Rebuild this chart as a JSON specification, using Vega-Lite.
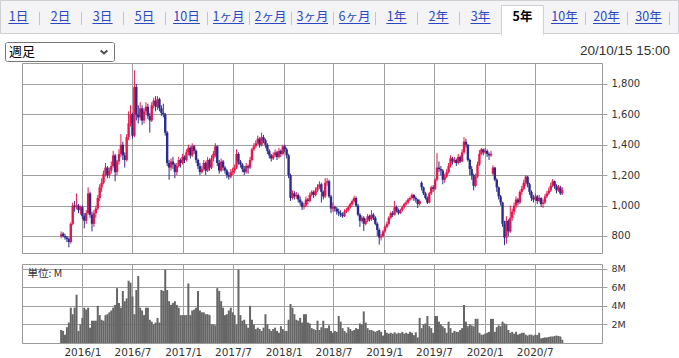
{
"$schema": "https://vega.github.io/schema/vega-lite/v6.json",
"padding": 0,
"autosize": {"type": "pad"},
"background": "white",
"bounds": "flush",
"spacing": 11,
"config": {"view": {"stroke": null}, "axis": {"labelFont": "DejaVu Sans", "labelOverlap": false}},
"datasets": {
"tabs": [
{"tab":"1日","active":false},{"tab":"2日","active":false},{"tab":"3日","active":false},{"tab":"5日","active":false},{"tab":"10日","active":false},{"tab":"1ヶ月","active":false},{"tab":"2ヶ月","active":false},{"tab":"3ヶ月","active":false},{"tab":"6ヶ月","active":false},{"tab":"1年","active":false},{"tab":"2年","active":false},{"tab":"3年","active":false},{"tab":"5年","active":true},{"tab":"10年","active":false},{"tab":"20年","active":false},{"tab":"30年","active":false}
],
"candles": [
{"d":"2015-10-16","o":800,"h":830,"l":785,"c":810,"v":1.4},
{"d":"2015-10-23","o":815,"h":825,"l":790,"c":800,"v":1.3},
{"d":"2015-10-30","o":800,"h":815,"l":775,"c":790,"v":0.9},
{"d":"2015-11-06","o":790,"h":800,"l":760,"c":780,"v":1.7},
{"d":"2015-11-13","o":780,"h":790,"l":725,"c":760,"v":2.2},
{"d":"2015-11-20","o":760,"h":890,"l":750,"c":880,"v":3.8},
{"d":"2015-11-27","o":880,"h":1020,"l":870,"c":1000,"v":3.1},
{"d":"2015-12-04","o":1000,"h":1030,"l":960,"c":990,"v":3.8},
{"d":"2015-12-11","o":990,"h":1080,"l":975,"c":1000,"v":5.2},
{"d":"2015-12-18","o":1000,"h":1010,"l":950,"c":970,"v":1.3},
{"d":"2015-12-25","o":970,"h":1000,"l":940,"c":990,"v":2.0},
{"d":"2016-01-01","o":990,"h":1000,"l":910,"c":930,"v":2.7},
{"d":"2016-01-08","o":930,"h":950,"l":850,"c":900,"v":3.8},
{"d":"2016-01-15","o":900,"h":970,"l":880,"c":950,"v":3.6},
{"d":"2016-01-22","o":950,"h":1120,"l":940,"c":1080,"v":3.8},
{"d":"2016-01-29","o":1080,"h":1090,"l":920,"c":940,"v":1.65},
{"d":"2016-02-05","o":940,"h":960,"l":830,"c":880,"v":2.4},
{"d":"2016-02-12","o":880,"h":970,"l":860,"c":950,"v":2.4},
{"d":"2016-02-19","o":950,"h":1000,"l":920,"c":980,"v":2.4},
{"d":"2016-02-26","o":980,"h":1070,"l":970,"c":1050,"v":4.0},
{"d":"2016-03-04","o":1050,"h":1140,"l":1030,"c":1120,"v":3.0},
{"d":"2016-03-11","o":1120,"h":1180,"l":1090,"c":1150,"v":2.5},
{"d":"2016-03-18","o":1150,"h":1230,"l":1140,"c":1210,"v":2.4},
{"d":"2016-03-25","o":1210,"h":1280,"l":1190,"c":1250,"v":3.0},
{"d":"2016-04-01","o":1250,"h":1260,"l":1180,"c":1200,"v":3.1},
{"d":"2016-04-08","o":1200,"h":1250,"l":1180,"c":1230,"v":3.3},
{"d":"2016-04-15","o":1230,"h":1290,"l":1210,"c":1260,"v":3.5},
{"d":"2016-04-22","o":1260,"h":1360,"l":1250,"c":1330,"v":3.8},
{"d":"2016-04-29","o":1330,"h":1340,"l":1160,"c":1220,"v":4.1},
{"d":"2016-05-06","o":1220,"h":1300,"l":1200,"c":1290,"v":5.9},
{"d":"2016-05-13","o":1290,"h":1370,"l":1270,"c":1340,"v":4.3},
{"d":"2016-05-20","o":1340,"h":1470,"l":1320,"c":1400,"v":3.8},
{"d":"2016-05-27","o":1400,"h":1420,"l":1300,"c":1330,"v":5.6},
{"d":"2016-06-03","o":1330,"h":1350,"l":1250,"c":1300,"v":4.5},
{"d":"2016-06-10","o":1300,"h":1470,"l":1290,"c":1450,"v":4.8},
{"d":"2016-06-17","o":1450,"h":1620,"l":1430,"c":1540,"v":6.7},
{"d":"2016-06-24","o":1540,"h":1660,"l":1520,"c":1600,"v":6.5},
{"d":"2016-07-01","o":1600,"h":1610,"l":1440,"c":1460,"v":5.0},
{"d":"2016-07-08","o":1460,"h":1890,"l":1450,"c":1780,"v":3.1},
{"d":"2016-07-15","o":1780,"h":1800,"l":1560,"c":1600,"v":5.7},
{"d":"2016-07-22","o":1600,"h":1660,"l":1540,"c":1580,"v":7.2},
{"d":"2016-07-29","o":1580,"h":1680,"l":1560,"c":1640,"v":3.8},
{"d":"2016-08-05","o":1640,"h":1660,"l":1530,"c":1560,"v":3.5},
{"d":"2016-08-12","o":1560,"h":1640,"l":1540,"c":1620,"v":3.0},
{"d":"2016-08-19","o":1620,"h":1680,"l":1600,"c":1650,"v":3.8},
{"d":"2016-08-26","o":1650,"h":1670,"l":1570,"c":1590,"v":3.8},
{"d":"2016-09-02","o":1590,"h":1610,"l":1480,"c":1560,"v":2.5},
{"d":"2016-09-09","o":1560,"h":1680,"l":1550,"c":1660,"v":2.3},
{"d":"2016-09-16","o":1660,"h":1710,"l":1640,"c":1690,"v":2.0},
{"d":"2016-09-23","o":1690,"h":1720,"l":1620,"c":1650,"v":2.2},
{"d":"2016-09-30","o":1650,"h":1720,"l":1630,"c":1700,"v":2.7},
{"d":"2016-10-07","o":1700,"h":1710,"l":1620,"c":1640,"v":2.2},
{"d":"2016-10-14","o":1640,"h":1660,"l":1590,"c":1610,"v":5.7},
{"d":"2016-10-21","o":1610,"h":1670,"l":1580,"c":1600,"v":5.6},
{"d":"2016-10-28","o":1600,"h":1610,"l":1460,"c":1480,"v":7.9},
{"d":"2016-11-04","o":1480,"h":1490,"l":1260,"c":1280,"v":5.7},
{"d":"2016-11-11","o":1280,"h":1300,"l":1170,"c":1250,"v":4.5},
{"d":"2016-11-18","o":1250,"h":1310,"l":1230,"c":1290,"v":4.1},
{"d":"2016-11-25","o":1290,"h":1320,"l":1240,"c":1270,"v":4.3},
{"d":"2016-12-02","o":1270,"h":1280,"l":1180,"c":1220,"v":4.5},
{"d":"2016-12-09","o":1220,"h":1280,"l":1200,"c":1260,"v":4.1},
{"d":"2016-12-16","o":1260,"h":1320,"l":1250,"c":1300,"v":3.8},
{"d":"2016-12-23","o":1300,"h":1310,"l":1250,"c":1280,"v":3.0},
{"d":"2016-12-30","o":1280,"h":1340,"l":1270,"c":1320,"v":3.0},
{"d":"2017-01-06","o":1320,"h":1330,"l":1280,"c":1300,"v":3.0},
{"d":"2017-01-13","o":1300,"h":1370,"l":1290,"c":1350,"v":3.0},
{"d":"2017-01-20","o":1350,"h":1400,"l":1330,"c":1380,"v":6.4},
{"d":"2017-01-27","o":1380,"h":1390,"l":1310,"c":1330,"v":3.0},
{"d":"2017-02-03","o":1330,"h":1410,"l":1320,"c":1390,"v":3.5},
{"d":"2017-02-10","o":1390,"h":1400,"l":1340,"c":1360,"v":3.6},
{"d":"2017-02-17","o":1360,"h":1370,"l":1280,"c":1300,"v":3.8},
{"d":"2017-02-24","o":1300,"h":1310,"l":1240,"c":1260,"v":5.6},
{"d":"2017-03-03","o":1260,"h":1280,"l":1200,"c":1220,"v":3.5},
{"d":"2017-03-10","o":1220,"h":1260,"l":1210,"c":1240,"v":3.3},
{"d":"2017-03-17","o":1240,"h":1300,"l":1230,"c":1280,"v":3.3},
{"d":"2017-03-24","o":1280,"h":1290,"l":1200,"c":1230,"v":3.1},
{"d":"2017-03-31","o":1230,"h":1320,"l":1220,"c":1300,"v":3.1},
{"d":"2017-04-07","o":1300,"h":1310,"l":1230,"c":1250,"v":3.0},
{"d":"2017-04-14","o":1250,"h":1330,"l":1240,"c":1310,"v":2.0},
{"d":"2017-04-21","o":1310,"h":1360,"l":1290,"c":1340,"v":2.0},
{"d":"2017-04-28","o":1330,"h":1410,"l":1320,"c":1390,"v":1.9},
{"d":"2017-05-05","o":1390,"h":1395,"l":1260,"c":1280,"v":5.9},
{"d":"2017-05-12","o":1280,"h":1300,"l":1210,"c":1230,"v":5.6},
{"d":"2017-05-19","o":1230,"h":1310,"l":1220,"c":1290,"v":4.5},
{"d":"2017-05-26","o":1290,"h":1300,"l":1230,"c":1250,"v":3.8},
{"d":"2017-06-02","o":1250,"h":1260,"l":1210,"c":1230,"v":3.0},
{"d":"2017-06-09","o":1230,"h":1240,"l":1180,"c":1200,"v":3.1},
{"d":"2017-06-16","o":1200,"h":1220,"l":1170,"c":1190,"v":3.5},
{"d":"2017-06-23","o":1190,"h":1240,"l":1180,"c":1220,"v":3.8},
{"d":"2017-06-30","o":1220,"h":1250,"l":1200,"c":1230,"v":3.3},
{"d":"2017-07-07","o":1230,"h":1270,"l":1210,"c":1250,"v":3.0},
{"d":"2017-07-14","o":1250,"h":1370,"l":1240,"c":1340,"v":2.0},
{"d":"2017-07-21","o":1340,"h":1350,"l":1270,"c":1290,"v":7.9},
{"d":"2017-07-28","o":1290,"h":1300,"l":1250,"c":1270,"v":3.0},
{"d":"2017-08-04","o":1270,"h":1280,"l":1220,"c":1240,"v":2.4},
{"d":"2017-08-11","o":1240,"h":1260,"l":1200,"c":1220,"v":2.5},
{"d":"2017-08-18","o":1220,"h":1280,"l":1210,"c":1260,"v":2.0},
{"d":"2017-08-25","o":1260,"h":1270,"l":1210,"c":1250,"v":1.65},
{"d":"2017-09-01","o":1250,"h":1320,"l":1240,"c":1300,"v":4.0},
{"d":"2017-09-08","o":1300,"h":1380,"l":1290,"c":1370,"v":2.5},
{"d":"2017-09-15","o":1370,"h":1410,"l":1360,"c":1390,"v":2.0},
{"d":"2017-09-22","o":1390,"h":1430,"l":1380,"c":1410,"v":1.5},
{"d":"2017-09-29","o":1410,"h":1460,"l":1400,"c":1440,"v":1.65},
{"d":"2017-10-06","o":1440,"h":1450,"l":1380,"c":1400,"v":1.5},
{"d":"2017-10-13","o":1400,"h":1480,"l":1390,"c":1450,"v":1.3},
{"d":"2017-10-20","o":1450,"h":1465,"l":1410,"c":1430,"v":1.65},
{"d":"2017-10-27","o":1430,"h":1440,"l":1380,"c":1400,"v":3.1},
{"d":"2017-11-03","o":1400,"h":1410,"l":1340,"c":1360,"v":2.0},
{"d":"2017-11-10","o":1360,"h":1370,"l":1310,"c":1330,"v":1.5},
{"d":"2017-11-17","o":1330,"h":1340,"l":1290,"c":1310,"v":1.3},
{"d":"2017-11-24","o":1310,"h":1350,"l":1300,"c":1330,"v":1.5},
{"d":"2017-12-01","o":1330,"h":1370,"l":1320,"c":1350,"v":1.65},
{"d":"2017-12-08","o":1350,"h":1360,"l":1300,"c":1320,"v":1.3},
{"d":"2017-12-15","o":1320,"h":1380,"l":1310,"c":1360,"v":1.1},
{"d":"2017-12-22","o":1360,"h":1370,"l":1320,"c":1340,"v":1.8},
{"d":"2017-12-29","o":1340,"h":1400,"l":1330,"c":1390,"v":1.5},
{"d":"2018-01-05","o":1390,"h":1400,"l":1350,"c":1370,"v":1.3},
{"d":"2018-01-12","o":1370,"h":1380,"l":1310,"c":1330,"v":1.3},
{"d":"2018-01-19","o":1330,"h":1340,"l":1180,"c":1200,"v":2.5},
{"d":"2018-01-26","o":1200,"h":1210,"l":1030,"c":1050,"v":4.2},
{"d":"2018-02-02","o":1050,"h":1100,"l":1040,"c":1080,"v":3.8},
{"d":"2018-02-09","o":1080,"h":1095,"l":1040,"c":1060,"v":3.1},
{"d":"2018-02-16","o":1060,"h":1090,"l":1045,"c":1070,"v":2.5},
{"d":"2018-02-23","o":1070,"h":1080,"l":1020,"c":1040,"v":2.4},
{"d":"2018-03-02","o":1040,"h":1060,"l":1000,"c":1020,"v":2.7},
{"d":"2018-03-09","o":1020,"h":1030,"l":970,"c":990,"v":2.2},
{"d":"2018-03-16","o":990,"h":1020,"l":975,"c":1000,"v":3.1},
{"d":"2018-03-23","o":1000,"h":1060,"l":990,"c":1040,"v":3.1},
{"d":"2018-03-30","o":1040,"h":1050,"l":1010,"c":1030,"v":2.2},
{"d":"2018-04-06","o":1030,"h":1085,"l":1020,"c":1070,"v":2.1},
{"d":"2018-04-13","o":1070,"h":1100,"l":1060,"c":1090,"v":1.6},
{"d":"2018-04-20","o":1090,"h":1100,"l":1050,"c":1070,"v":1.5},
{"d":"2018-04-27","o":1070,"h":1120,"l":1060,"c":1100,"v":1.4},
{"d":"2018-05-04","o":1100,"h":1140,"l":1090,"c":1120,"v":2.4},
{"d":"2018-05-11","o":1120,"h":1160,"l":1110,"c":1140,"v":1.4},
{"d":"2018-05-18","o":1140,"h":1150,"l":1020,"c":1090,"v":1.7},
{"d":"2018-05-25","o":1090,"h":1100,"l":1040,"c":1060,"v":2.4},
{"d":"2018-06-01","o":1060,"h":1180,"l":1050,"c":1150,"v":1.6},
{"d":"2018-06-08","o":1150,"h":1180,"l":1130,"c":1160,"v":1.6},
{"d":"2018-06-15","o":1160,"h":1170,"l":1050,"c":1060,"v":1.9},
{"d":"2018-06-22","o":1060,"h":1070,"l":950,"c":980,"v":1.3},
{"d":"2018-06-29","o":980,"h":1020,"l":960,"c":990,"v":1.1},
{"d":"2018-07-06","o":990,"h":1000,"l":960,"c":980,"v":1.3},
{"d":"2018-07-13","o":980,"h":990,"l":940,"c":960,"v":1.2},
{"d":"2018-07-20","o":960,"h":980,"l":930,"c":950,"v":2.9},
{"d":"2018-07-27","o":950,"h":970,"l":925,"c":940,"v":2.3},
{"d":"2018-08-03","o":940,"h":955,"l":920,"c":930,"v":1.6},
{"d":"2018-08-10","o":930,"h":975,"l":925,"c":960,"v":1.3},
{"d":"2018-08-17","o":960,"h":985,"l":950,"c":970,"v":1.1},
{"d":"2018-08-24","o":970,"h":1000,"l":960,"c":990,"v":1.7},
{"d":"2018-08-31","o":990,"h":1020,"l":980,"c":1010,"v":1.5},
{"d":"2018-09-07","o":1010,"h":1040,"l":1000,"c":1030,"v":1.3},
{"d":"2018-09-14","o":1030,"h":1065,"l":1020,"c":1050,"v":1.4},
{"d":"2018-09-21","o":1050,"h":1060,"l":990,"c":1000,"v":1.6},
{"d":"2018-09-28","o":1000,"h":1010,"l":930,"c":940,"v":1.5},
{"d":"2018-10-05","o":940,"h":950,"l":860,"c":900,"v":2.1},
{"d":"2018-10-12","o":900,"h":935,"l":890,"c":920,"v":2.0},
{"d":"2018-10-19","o":920,"h":930,"l":833,"c":880,"v":3.4},
{"d":"2018-10-26","o":880,"h":915,"l":870,"c":900,"v":2.2},
{"d":"2018-11-02","o":900,"h":945,"l":890,"c":930,"v":1.6},
{"d":"2018-11-09","o":930,"h":940,"l":895,"c":910,"v":1.4},
{"d":"2018-11-16","o":910,"h":970,"l":900,"c":940,"v":1.4},
{"d":"2018-11-23","o":940,"h":950,"l":905,"c":920,"v":1.3},
{"d":"2018-11-30","o":920,"h":930,"l":870,"c":880,"v":1.2},
{"d":"2018-12-07","o":880,"h":890,"l":800,"c":840,"v":1.3},
{"d":"2018-12-14","o":840,"h":850,"l":743,"c":790,"v":1.4},
{"d":"2018-12-21","o":790,"h":815,"l":770,"c":800,"v":1.2},
{"d":"2018-12-28","o":800,"h":840,"l":790,"c":830,"v":0.8},
{"d":"2019-01-04","o":830,"h":870,"l":820,"c":860,"v":1.4},
{"d":"2019-01-11","o":860,"h":895,"l":850,"c":880,"v":1.1},
{"d":"2019-01-18","o":880,"h":930,"l":870,"c":920,"v":1.0},
{"d":"2019-01-25","o":920,"h":960,"l":910,"c":950,"v":1.1},
{"d":"2019-02-01","o":950,"h":965,"l":925,"c":940,"v":1.0},
{"d":"2019-02-08","o":940,"h":1030,"l":935,"c":990,"v":1.15},
{"d":"2019-02-15","o":990,"h":1000,"l":955,"c":970,"v":1.0},
{"d":"2019-02-22","o":970,"h":980,"l":940,"c":950,"v":1.1},
{"d":"2019-03-01","o":950,"h":980,"l":945,"c":970,"v":1.05},
{"d":"2019-03-08","o":970,"h":1000,"l":960,"c":990,"v":1.2},
{"d":"2019-03-15","o":990,"h":1020,"l":980,"c":1010,"v":1.0},
{"d":"2019-03-22","o":1010,"h":1035,"l":1000,"c":1020,"v":1.1},
{"d":"2019-03-29","o":1020,"h":1050,"l":1010,"c":1040,"v":1.0},
{"d":"2019-04-05","o":1040,"h":1060,"l":1030,"c":1050,"v":1.2},
{"d":"2019-04-12","o":1050,"h":1080,"l":1040,"c":1070,"v":1.1},
{"d":"2019-04-19","o":1070,"h":1075,"l":1030,"c":1050,"v":0.85},
{"d":"2019-04-26","o":1050,"h":1060,"l":1020,"c":1040,"v":1.15},
{"d":"2019-05-03","o":1040,"h":1045,"l":984,"c":1010,"v":0.6},
{"d":"2019-05-10","o":1010,"h":1040,"l":1000,"c":1030,"v":2.7},
{"d":"2019-05-17","o":1150,"h":1160,"l":1100,"c":1120,"v":1.6},
{"d":"2019-05-24","o":1120,"h":1125,"l":1070,"c":1080,"v":2.0},
{"d":"2019-05-31","o":1080,"h":1090,"l":1040,"c":1050,"v":2.1},
{"d":"2019-06-07","o":1050,"h":1060,"l":1010,"c":1020,"v":2.9},
{"d":"2019-06-14","o":1020,"h":1090,"l":1015,"c":1080,"v":1.8},
{"d":"2019-06-21","o":1080,"h":1130,"l":1070,"c":1120,"v":1.6},
{"d":"2019-06-28","o":1120,"h":1135,"l":1090,"c":1110,"v":1.1},
{"d":"2019-07-05","o":1110,"h":1180,"l":1100,"c":1170,"v":2.9},
{"d":"2019-07-12","o":1170,"h":1345,"l":1160,"c":1250,"v":2.9},
{"d":"2019-07-19","o":1250,"h":1290,"l":1220,"c":1240,"v":2.3},
{"d":"2019-07-26","o":1240,"h":1260,"l":1200,"c":1230,"v":2.0},
{"d":"2019-08-02","o":1230,"h":1240,"l":1140,"c":1170,"v":1.8},
{"d":"2019-08-09","o":1170,"h":1210,"l":1150,"c":1190,"v":1.6},
{"d":"2019-08-16","o":1190,"h":1240,"l":1180,"c":1220,"v":1.1},
{"d":"2019-08-23","o":1220,"h":1280,"l":1210,"c":1260,"v":2.3},
{"d":"2019-08-30","o":1260,"h":1330,"l":1250,"c":1310,"v":1.6},
{"d":"2019-09-06","o":1310,"h":1320,"l":1270,"c":1290,"v":1.1},
{"d":"2019-09-13","o":1290,"h":1320,"l":1280,"c":1300,"v":1.3},
{"d":"2019-09-20","o":1300,"h":1310,"l":1260,"c":1280,"v":1.2},
{"d":"2019-09-27","o":1280,"h":1340,"l":1270,"c":1320,"v":1.2},
{"d":"2019-10-04","o":1320,"h":1330,"l":1280,"c":1290,"v":1.4},
{"d":"2019-10-11","o":1290,"h":1370,"l":1285,"c":1350,"v":1.6},
{"d":"2019-10-18","o":1350,"h":1450,"l":1340,"c":1420,"v":4.1},
{"d":"2019-10-25","o":1420,"h":1440,"l":1380,"c":1400,"v":2.3},
{"d":"2019-11-01","o":1400,"h":1405,"l":1290,"c":1300,"v":1.8},
{"d":"2019-11-08","o":1300,"h":1310,"l":1200,"c":1240,"v":2.0},
{"d":"2019-11-15","o":1240,"h":1260,"l":1170,"c":1200,"v":1.9},
{"d":"2019-11-22","o":1200,"h":1210,"l":1100,"c":1130,"v":1.8},
{"d":"2019-11-29","o":1130,"h":1210,"l":1120,"c":1190,"v":2.6},
{"d":"2019-12-06","o":1190,"h":1290,"l":1180,"c":1270,"v":2.6},
{"d":"2019-12-13","o":1270,"h":1365,"l":1260,"c":1340,"v":1.1},
{"d":"2019-12-20","o":1340,"h":1380,"l":1330,"c":1370,"v":0.9},
{"d":"2019-12-27","o":1370,"h":1375,"l":1330,"c":1350,"v":0.9},
{"d":"2020-01-03","o":1350,"h":1380,"l":1340,"c":1360,"v":1.0},
{"d":"2020-01-10","o":1360,"h":1370,"l":1320,"c":1340,"v":1.1},
{"d":"2020-01-17","o":1340,"h":1350,"l":1300,"c":1330,"v":1.2},
{"d":"2020-01-24","o":1330,"h":1360,"l":1320,"c":1340,"v":2.6},
{"d":"2020-01-31","o":1210,"h":1265,"l":1200,"c":1250,"v":2.6},
{"d":"2020-02-07","o":1250,"h":1255,"l":1160,"c":1170,"v":1.2},
{"d":"2020-02-14","o":1170,"h":1180,"l":1090,"c":1120,"v":1.7},
{"d":"2020-02-21","o":1120,"h":1125,"l":1040,"c":1060,"v":1.9},
{"d":"2020-02-28","o":1060,"h":1070,"l":1000,"c":1020,"v":1.8},
{"d":"2020-03-06","o":1020,"h":1025,"l":860,"c":880,"v":2.3},
{"d":"2020-03-13","o":880,"h":900,"l":740,"c":790,"v":2.1},
{"d":"2020-03-20","o":790,"h":930,"l":750,"c":900,"v":2.0},
{"d":"2020-03-27","o":900,"h":910,"l":800,"c":830,"v":1.4},
{"d":"2020-04-03","o":830,"h":1000,"l":820,"c":920,"v":1.1},
{"d":"2020-04-10","o":920,"h":980,"l":900,"c":960,"v":1.2},
{"d":"2020-04-17","o":960,"h":1020,"l":940,"c":1000,"v":1.0},
{"d":"2020-04-24","o":1000,"h":1060,"l":980,"c":1040,"v":1.2},
{"d":"2020-05-01","o":1040,"h":1050,"l":1000,"c":1020,"v":0.9},
{"d":"2020-05-08","o":1020,"h":1100,"l":1010,"c":1090,"v":1.0},
{"d":"2020-05-15","o":1090,"h":1130,"l":1070,"c":1110,"v":1.1},
{"d":"2020-05-22","o":1110,"h":1170,"l":1100,"c":1150,"v":1.1},
{"d":"2020-05-29","o":1150,"h":1200,"l":1130,"c":1190,"v":0.9},
{"d":"2020-06-05","o":1190,"h":1195,"l":1120,"c":1140,"v":0.8},
{"d":"2020-06-12","o":1140,"h":1150,"l":1070,"c":1090,"v":0.9},
{"d":"2020-06-19","o":1090,"h":1100,"l":1030,"c":1050,"v":0.9},
{"d":"2020-06-26","o":1050,"h":1070,"l":1020,"c":1040,"v":0.8},
{"d":"2020-07-03","o":1040,"h":1080,"l":1030,"c":1060,"v":0.9},
{"d":"2020-07-10","o":1060,"h":1070,"l":1010,"c":1030,"v":0.85},
{"d":"2020-07-17","o":1030,"h":1070,"l":1020,"c":1050,"v":1.1},
{"d":"2020-07-24","o":1050,"h":1055,"l":990,"c":1010,"v":0.5},
{"d":"2020-07-31","o":1010,"h":1040,"l":985,"c":1020,"v":0.55},
{"d":"2020-08-07","o":1020,"h":1075,"l":1010,"c":1060,"v":0.6},
{"d":"2020-08-14","o":1060,"h":1095,"l":1050,"c":1080,"v":0.6},
{"d":"2020-08-21","o":1080,"h":1120,"l":1070,"c":1100,"v":0.65},
{"d":"2020-08-28","o":1100,"h":1150,"l":1090,"c":1130,"v":0.7},
{"d":"2020-09-04","o":1130,"h":1175,"l":1120,"c":1160,"v":0.7},
{"d":"2020-09-11","o":1160,"h":1165,"l":1110,"c":1130,"v":0.75},
{"d":"2020-09-18","o":1130,"h":1140,"l":1080,"c":1100,"v":0.8},
{"d":"2020-09-25","o":1100,"h":1135,"l":1090,"c":1120,"v":0.75},
{"d":"2020-10-02","o":1120,"h":1130,"l":1070,"c":1080,"v":0.7},
{"d":"2020-10-09","o":1080,"h":1120,"l":1070,"c":1100,"v":0.35}
]
},
"vconcat": [
{
"width": 580, "height": 52,
"view": {"stroke": null},
"resolve": {"scale": {"x": "independent", "y": "independent"}},
"layer": [
{"data": {"values": [{"part": "strip"}]},
 "mark": {"type": "rect", "fill": "#f4f4f6", "stroke": "#d0d0d4", "strokeWidth": 1},
 "encoding": {
  "x": {"field": "part", "type": "nominal", "axis": null, "scale": {"range": [-21.5, 656.5], "paddingInner": 0, "paddingOuter": 0}},
  "y": {"field": "part", "type": "nominal", "axis": null, "scale": {"range": [0.5, 33.5], "paddingInner": 0, "paddingOuter": 0}}}},
{"data": {"name": "tabs"}, "transform": [{"filter": "!datum.active"}],
 "mark": {"type": "rule", "stroke": "#c4c4c8", "strokeWidth": 1},
 "encoding": {
  "x": {"field": "tab", "type": "nominal", "sort": null, "bandPosition": 1, "axis": null, "scale": {"domain": ["1日","2日","3日","5日","10日","1ヶ月","2ヶ月","3ヶ月","6ヶ月","1年","2年","3年","5年","10年","20年","30年"], "range": [-24.5, 647.5], "paddingInner": 0, "paddingOuter": 0}},
  "y": {"datum": 0, "type": "quantitative", "axis": null, "scale": {"domain": [0, 1], "range": [12, 25]}},
  "y2": {"datum": 1}}},
{"data": {"name": "tabs"}, "transform": [{"filter": "datum.active"}],
 "mark": {"type": "rect", "fill": "white", "stroke": "#d0d0d4", "strokeWidth": 1},
 "encoding": {
  "x": {"field": "tab", "type": "nominal", "sort": null, "axis": null, "scale": {"domain": ["1日","2日","3日","5日","10日","1ヶ月","2ヶ月","3ヶ月","6ヶ月","1年","2年","3年","5年","10年","20年","30年"], "range": [-24.5, 647.5], "paddingInner": 0, "paddingOuter": 0}},
  "y": {"datum": "tab", "type": "nominal", "axis": null, "scale": {"domain": ["tab"], "range": [5.5, 36], "paddingInner": 0, "paddingOuter": 0}}}},
{"data": {"name": "tabs"}, "transform": [{"filter": "datum.active"}],
 "mark": {"type": "rect", "fill": "white", "strokeWidth": 0},
 "encoding": {
  "x": {"field": "tab", "type": "nominal", "sort": null, "axis": null, "scale": {"domain": ["1日","2日","3日","5日","10日","1ヶ月","2ヶ月","3ヶ月","6ヶ月","1年","2年","3年","5年","10年","20年","30年"], "range": [-24.5, 647.5], "paddingInner": 0, "paddingOuter": 0}},
  "y": {"datum": "cover", "type": "nominal", "axis": null, "scale": {"domain": ["cover"], "range": [34, 37.5], "paddingInner": 0, "paddingOuter": 0}}}},
{"data": {"name": "tabs"}, "transform": [{"filter": "!datum.active"}],
 "mark": {"type": "text", "font": "Noto Sans CJK JP", "fontSize": 12.5, "baseline": "middle", "color": "#2b48c4"},
 "encoding": {
  "x": {"field": "tab", "type": "nominal", "sort": null, "axis": null, "scale": {"domain": ["1日","2日","3日","5日","10日","1ヶ月","2ヶ月","3ヶ月","6ヶ月","1年","2年","3年","5年","10年","20年","30年"], "range": [-24.5, 647.5], "paddingInner": 0, "paddingOuter": 0}},
  "y": {"datum": "label", "type": "nominal", "axis": null, "scale": {"domain": ["label"], "range": [5, 28], "paddingInner": 0, "paddingOuter": 0}},
  "text": {"field": "tab"}}},
{"data": {"name": "tabs"}, "transform": [{"filter": "indexof(['1日','2日','3日','5日','1年','2年','3年'], datum.tab) >= 0"}],
 "mark": {"type": "rect", "fill": "#2b48c4", "strokeWidth": 0},
 "encoding": {
  "x": {"field": "tab", "type": "nominal", "sort": null, "axis": null, "scale": {"domain": ["1日","2日","3日","5日","10日","1ヶ月","2ヶ月","3ヶ月","6ヶ月","1年","2年","3年","5年","10年","20年","30年"], "range": [-24.5, 647.5], "paddingInner": 0.52, "paddingOuter": 0.26}},
  "y": {"datum": "u", "type": "nominal", "axis": null, "scale": {"domain": ["u"], "range": [23, 24], "paddingInner": 0, "paddingOuter": 0}}}},
{"data": {"name": "tabs"}, "transform": [{"filter": "indexof(['10日','10年','20年','30年'], datum.tab) >= 0"}],
 "mark": {"type": "rect", "fill": "#2b48c4", "strokeWidth": 0},
 "encoding": {
  "x": {"field": "tab", "type": "nominal", "sort": null, "axis": null, "scale": {"domain": ["1日","2日","3日","5日","10日","1ヶ月","2ヶ月","3ヶ月","6ヶ月","1年","2年","3年","5年","10年","20年","30年"], "range": [-24.5, 647.5], "paddingInner": 0.36, "paddingOuter": 0.18}},
  "y": {"datum": "u", "type": "nominal", "axis": null, "scale": {"domain": ["u"], "range": [23, 24], "paddingInner": 0, "paddingOuter": 0}}}},
{"data": {"name": "tabs"}, "transform": [{"filter": "indexof(['1ヶ月','2ヶ月','3ヶ月','6ヶ月'], datum.tab) >= 0"}],
 "mark": {"type": "rect", "fill": "#2b48c4", "strokeWidth": 0},
 "encoding": {
  "x": {"field": "tab", "type": "nominal", "sort": null, "axis": null, "scale": {"domain": ["1日","2日","3日","5日","10日","1ヶ月","2ヶ月","3ヶ月","6ヶ月","1年","2年","3年","5年","10年","20年","30年"], "range": [-24.5, 647.5], "paddingInner": 0.26, "paddingOuter": 0.13}},
  "y": {"datum": "u", "type": "nominal", "axis": null, "scale": {"domain": ["u"], "range": [23, 24], "paddingInner": 0, "paddingOuter": 0}}}},
{"data": {"name": "tabs"}, "transform": [{"filter": "datum.active"}],
 "mark": {"type": "text", "font": "Noto Sans CJK JP", "fontSize": 12.5, "fontWeight": "bold", "baseline": "middle", "color": "#000000"},
 "encoding": {
  "x": {"field": "tab", "type": "nominal", "sort": null, "axis": null, "scale": {"domain": ["1日","2日","3日","5日","10日","1ヶ月","2ヶ月","3ヶ月","6ヶ月","1年","2年","3年","5年","10年","20年","30年"], "range": [-24.5, 647.5], "paddingInner": 0, "paddingOuter": 0}},
  "y": {"datum": "label", "type": "nominal", "axis": null, "scale": {"domain": ["label"], "range": [5, 28], "paddingInner": 0, "paddingOuter": 0}},
  "text": {"field": "tab"}}},
{"data": {"values": [{"control": "週足"}]},
 "mark": {"type": "rect", "fill": "white", "stroke": "#767676", "strokeWidth": 1, "cornerRadius": 2},
 "encoding": {
  "x": {"field": "control", "type": "nominal", "axis": null, "scale": {"range": [-16.5, 92.5], "paddingInner": 0, "paddingOuter": 0}},
  "y": {"field": "control", "type": "nominal", "axis": null, "scale": {"range": [42.5, 61.5], "paddingInner": 0, "paddingOuter": 0}}}},
{"data": {"values": [{"control": "週足"}]},
 "mark": {"type": "text", "font": "Noto Sans CJK JP", "fontSize": 13, "align": "left", "baseline": "middle", "dx": -51, "color": "#000000"},
 "encoding": {
  "x": {"field": "control", "type": "nominal", "axis": null, "scale": {"range": [-16.5, 92.5], "paddingInner": 0, "paddingOuter": 0}},
  "y": {"field": "control", "type": "nominal", "axis": null, "scale": {"range": [42.5, 61.5], "paddingInner": 0, "paddingOuter": 0}},
  "text": {"field": "control"}}},
{"data": {"values": [{"control": "週足"}]},
 "mark": {"type": "point", "shape": "M-1,-0.45L0,0.45L1,-0.45", "filled": false, "stroke": "#000000", "strokeWidth": 2, "size": 45, "xOffset": 44},
 "encoding": {
  "x": {"field": "control", "type": "nominal", "axis": null, "scale": {"range": [-16.5, 92.5], "paddingInner": 0, "paddingOuter": 0}},
  "y": {"field": "control", "type": "nominal", "axis": null, "scale": {"range": [42.5, 61.5], "paddingInner": 0, "paddingOuter": 0}}}},
{"data": {"values": [{"stamp": "20/10/15 15:00"}]},
 "mark": {"type": "text", "font": "Liberation Sans", "fontSize": 13.5, "align": "right", "baseline": "middle", "color": "#333333"},
 "encoding": {
  "x": {"field": "stamp", "type": "nominal", "axis": null, "scale": {"range": [640, 656], "paddingInner": 0, "paddingOuter": 0}},
  "y": {"field": "stamp", "type": "nominal", "axis": null, "scale": {"range": [42, 60], "paddingInner": 0, "paddingOuter": 0}},
  "text": {"field": "stamp"}}}
]
},
{
"width": 580, "height": 190,
"view": {"stroke": "#9a9a9a", "strokeWidth": 1},
"data": {"name": "candles"},
"encoding": {
 "x": {"field": "d", "type": "temporal",
  "scale": {"type": "utc", "domain": [{"year": 2015, "month": 6, "date": 14, "utc": true}, {"year": 2021, "month": 2, "date": 12, "utc": true}]},
  "axis": {"labels": false, "ticks": false, "domain": false, "title": null, "grid": true, "gridColor": "#a0a0a0", "gridOpacity": 1,
   "values": [{"year":2016,"month":1,"date":1,"utc":true},{"year":2016,"month":7,"date":1,"utc":true},{"year":2017,"month":1,"date":1,"utc":true},{"year":2017,"month":7,"date":1,"utc":true},{"year":2018,"month":1,"date":1,"utc":true},{"year":2018,"month":7,"date":1,"utc":true},{"year":2019,"month":1,"date":1,"utc":true},{"year":2019,"month":7,"date":1,"utc":true},{"year":2020,"month":1,"date":1,"utc":true},{"year":2020,"month":7,"date":1,"utc":true}]}},
 "y": {"field": "l", "type": "quantitative", "scale": {"domain": [688, 1938], "nice": false, "zero": false},
    "axis": {"orient": "right", "values": [800, 1000, 1200, 1400, 1600, 1800], "format": ",d", "labelOverlap": false, "grid": true, "gridColor": "#a0a0a0", "gridOpacity": 1, "domain": false, "ticks": true, "tickSize": 5, "tickColor": "#a0a0a0", "labelFontSize": 10, "labelColor": "#333333", "labelPadding": 4, "title": null}},
 "color": {"condition": {"test": "datum.c >= datum.o", "value": "#e8174b"}, "value": "#2b2b8f"}
},
"layer": [
 {"mark": {"type": "rule", "strokeWidth": 1},
  "encoding": {"y2": {"field": "h"}}},
 {"mark": {"type": "bar", "size": 2.4},
  "encoding": {
   "y": {"field": "o", "type": "quantitative", "scale": {"domain": [688, 1938], "nice": false, "zero": false},
    "axis": {"orient": "right", "values": [800, 1000, 1200, 1400, 1600, 1800], "format": ",d", "labelOverlap": false, "grid": true, "gridColor": "#a0a0a0", "gridOpacity": 1, "domain": false, "ticks": true, "tickSize": 5, "tickColor": "#a0a0a0", "labelFontSize": 10, "labelColor": "#333333", "labelPadding": 4, "title": null}},
   "y2": {"field": "c"}}}
]
},
{
"width": 580, "height": 79,
"view": {"stroke": "#9a9a9a", "strokeWidth": 1},
"data": {"name": "candles"},
"mark": {"type": "bar", "size": 2, "color": "#666666"},
"encoding": {
 "x": {"field": "d", "type": "temporal",
  "scale": {"type": "utc", "domain": [{"year": 2015, "month": 6, "date": 14, "utc": true}, {"year": 2021, "month": 2, "date": 12, "utc": true}]},
  "axis": {"format": "%Y/%-m", "labelOverlap": false, "ticks": false, "domain": false, "title": null, "grid": true, "gridColor": "#a0a0a0", "gridOpacity": 1, "labelFontSize": 10.5, "labelColor": "#333333", "labelPadding": 4, "labelBaseline": "top",
   "values": [{"year":2016,"month":1,"date":1,"utc":true},{"year":2016,"month":7,"date":1,"utc":true},{"year":2017,"month":1,"date":1,"utc":true},{"year":2017,"month":7,"date":1,"utc":true},{"year":2018,"month":1,"date":1,"utc":true},{"year":2018,"month":7,"date":1,"utc":true},{"year":2019,"month":1,"date":1,"utc":true},{"year":2019,"month":7,"date":1,"utc":true},{"year":2020,"month":1,"date":1,"utc":true},{"year":2020,"month":7,"date":1,"utc":true}]}},
 "y": {"field": "v", "type": "quantitative", "scale": {"domain": [0, 8.5], "nice": false},
  "axis": {"orient": "right", "values": [2, 4, 6, 8], "labelExpr": "datum.value + 'M'", "labelOverlap": false, "grid": true, "gridColor": "#a0a0a0", "gridOpacity": 1, "domain": false, "tickSize": 5, "tickColor": "#a0a0a0", "labelFontSize": 9.5, "labelColor": "#333333", "labelPadding": 4,
   "title": "単位: M", "titleX": -575, "titleY": 4, "titleAngle": 0, "titleAlign": "left", "titleBaseline": "top", "titleFontWeight": "normal", "titleFontSize": 10.5, "titleFont": "Noto Sans CJK JP", "titleColor": "#333333"}}
}
}
]
}
